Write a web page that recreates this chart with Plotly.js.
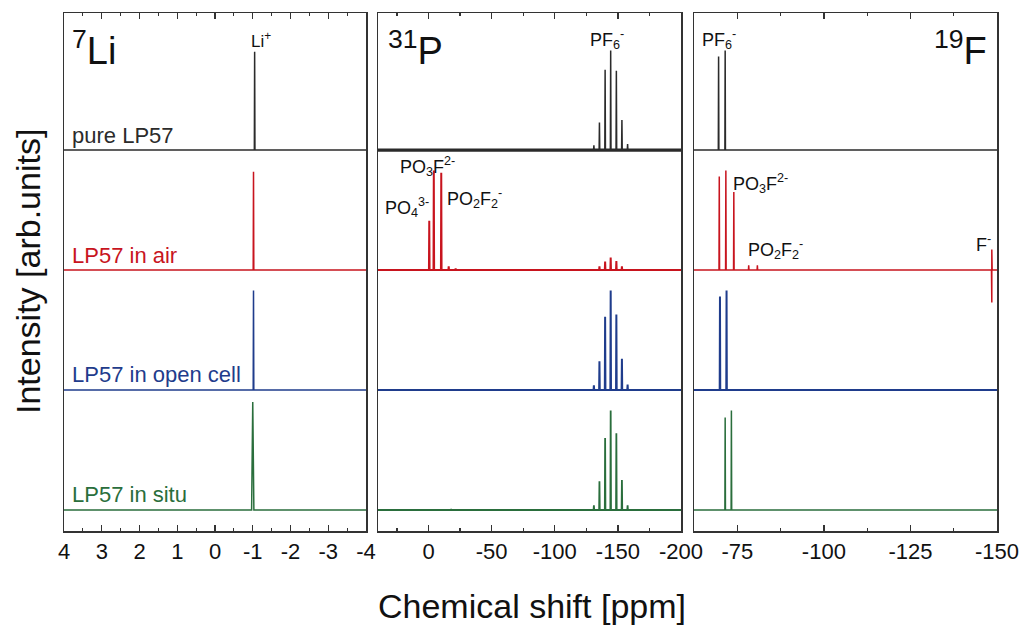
<!DOCTYPE html>
<html>
<head>
<meta charset="utf-8">
<script src="https://cdn.plot.ly/plotly-3.0.1.min.js"></script>
<style>html,body{margin:0;padding:0;background:#fff;}#plot{width:1021px;height:629px;}</style>
</head>
<body>
<div id="plot"></div>
<script>
// ---------------- data ----------------
const sampleNames = ["pure LP57", "LP57 in air", "LP57 in open cell", "LP57 in situ"];
const sampleOffsets = [3, 2, 1, 0];

// 7Li
const liPeakPos = [-1.05, -1.02, -1.02, -1.00];
const liPeakHeight = [0.82, 0.82, 0.83, 0.90];

// 31P
const pPureShift = [-131.0, -135.4, -139.9, -144.3, -148.8, -153.2, -157.7];
const pPureHeight = [0.04, 0.23, 0.67, 0.83, 0.66, 0.25, 0.05];
const pAirShift = [-0.6, -4.2, -10.1, -16.0, -21.5, -135.4, -139.9, -144.3, -148.8, -153.2];
const pAirHeight = [0.41, 0.83, 0.81, 0.03, 0.012, 0.03, 0.07, 0.105, 0.075, 0.03];
const pOpenShift = [-131.0, -135.4, -139.9, -144.3, -148.8, -153.2, -157.7];
const pOpenHeight = [0.04, 0.24, 0.61, 0.83, 0.63, 0.26, 0.045];
const pSituShift = [-18.0, -131.0, -135.4, -139.9, -144.3, -148.8, -153.2, -157.7];
const pSituHeight = [0.008, 0.04, 0.24, 0.60, 0.83, 0.64, 0.25, 0.04];

// 19F
const fPureShift = [-69.6, -71.5];
const fPureHeight = [0.78, 0.83];
const fAirShift = [-69.8, -71.7, -74.0, -78.3, -80.8];
const fAirHeight = [0.78, 0.83, 0.65, 0.04, 0.04];
const fluorideShift = -148.5;
const fluorideUp = 0.17;
const fluorideDown = -0.27;
const fOpenShift = [-70.0, -71.9];
const fOpenHeight = [0.78, 0.83];
const fSituShift = [-71.5, -73.3];
const fSituHeight = [0.77, 0.83];

// axes
const liRange = [4, -4];
const pRange = [40, -200];
const fRange = [-62.5, -150];
const liTicks = [4, 3, 2, 1, 0, -1, -2, -3, -4];
const liTickText = ["4", "3", "2", "1", "0", "-1", "-2", "-3", "-4"];
const pTicks = [0, -50, -100, -150, -200];
const pTickText = ["0", "-50", "-100", "-150", "-200"];
const fTicks = [-75, -100, -125, -150];
const fTickText = ["-75", "-100", "-125", "-150"];

// ---------------- styles ----------------
const colors = ["#2b2b2b", "#c8141e", "#1f3c8c", "#2a6e3c"];
const FONT = "Liberation Sans, Arial, sans-serif";

// build stick spectrum from peak list
function spectrum(range, pos, hts, halfw, offset, extra) {
  const lo = Math.min(range[0], range[1]), hi = Math.max(range[0], range[1]);
  let pts = [];
  pos.forEach((p, i) => pts.push({p: p, seg: [[p - halfw, 0], [p, hts[i]], [p + halfw, 0]]}));
  if (extra) pts.push(extra);
  pts.sort((a, b) => a.p - b.p);
  const xs = [lo], ys = [offset];
  pts.forEach(o => o.seg.forEach(s => { xs.push(s[0]); ys.push(s[1] + offset); }));
  xs.push(hi); ys.push(offset);
  return {xs, ys};
}

const traces = [];
function add(sp, axis, color, width) {
  traces.push({x: sp.xs, y: sp.ys, xaxis: 'x' + axis, yaxis: 'y' + axis, type: 'scatter', mode: 'lines',
    line: {color: color, width: width || 1.5}, hoverinfo: 'skip', showlegend: false});
}

// Li panel
for (let i = 0; i < 4; i++) {
  const hw = i === 3 ? 0.03 : 0.008;
  add(spectrum(liRange, [liPeakPos[i]], [liPeakHeight[i]], hw, sampleOffsets[i]), '', colors[i]);
}
// P panel
add({xs: [pRange[1], pRange[0]], ys: [sampleOffsets[0], sampleOffsets[0]]}, '2', colors[0], 3.2);
add(spectrum(pRange, pPureShift, pPureHeight, 0.25, sampleOffsets[0]), '2', colors[0]);
add(spectrum(pRange, pAirShift, pAirHeight, 0.25, sampleOffsets[1]), '2', colors[1], 2);
add(spectrum(pRange, pOpenShift, pOpenHeight, 0.25, sampleOffsets[2]), '2', colors[2], 2);
add(spectrum(pRange, pSituShift, pSituHeight, 0.25, sampleOffsets[3]), '2', colors[3], 1.8);
// F panel
add(spectrum(fRange, fPureShift, fPureHeight, 0.08, sampleOffsets[0]), '3', colors[0]);
add(spectrum(fRange, fAirShift, fAirHeight, 0.08, sampleOffsets[1],
  {p: fluorideShift, seg: [[fluorideShift - 0.1, 0], [fluorideShift, fluorideUp], [fluorideShift, fluorideDown], [fluorideShift + 0.1, 0]]}), '3', colors[1]);
add(spectrum(fRange, fOpenShift, fOpenHeight, 0.08, sampleOffsets[2]), '3', colors[2], 2);
add(spectrum(fRange, fSituShift, fSituHeight, 0.08, sampleOffsets[3]), '3', colors[3]);

// ---------------- layout ----------------
const W = 1021, H = 629;
const yDom = [1 - 531 / H, 1 - 13 / H];
const yRange = [-0.175, 4.142];

function xax(dom, range, tv, tt, minorDt, anchor) {
  return {domain: dom, range: range, anchor: anchor, tickmode: 'array', tickvals: tv, ticktext: tt,
    ticks: 'inside', ticklen: 6, tickwidth: 1.3, tickcolor: '#333',
    minor: {dtick: minorDt, tick0: 0, ticks: 'inside', ticklen: 3, tickwidth: 1.2, tickcolor: '#333', showgrid: false},
    showline: true, linecolor: '#333', linewidth: 1.5, mirror: 'ticks',
    showgrid: false, zeroline: false, tickfont: {family: FONT, size: 22, color: '#111'}, fixedrange: true};
}
function yax(anchor) {
  return {domain: yDom, range: yRange, anchor: anchor, showticklabels: false, ticks: '',
    showline: true, linecolor: '#333', linewidth: 1.5, mirror: true, showgrid: false, zeroline: false, fixedrange: true};
}

const ann = [];
function label(text, x, y, xref, yref, size, color, xanchor) {
  ann.push({text: text, x: x, y: y, xref: xref, yref: yref, showarrow: false,
    font: {family: FONT, size: size, color: color || '#111'}, xanchor: xanchor || 'center', yanchor: 'middle'});
}
// sample names
for (let i = 0; i < 4; i++) label(sampleNames[i], 3.85, sampleOffsets[i] + [0.12, 0.12, 0.13, 0.13][i], 'x', 'y', 22, colors[i], 'left');
// nucleus labels
label('<sup>7</sup>Li', 3.85, 3.85, 'x', 'y', 38, '#111', 'left');
label('<sup>31</sup>P', 34, 3.85, 'x2', 'y2', 38, '#111', 'left');
label('<sup>19</sup>F', -147.7, 3.85, 'x3', 'y3', 38, '#111', 'right');
// peak labels
label('Li<sup>+</sup>', -1.22, 3.92, 'x', 'y', 17);
label('PF<sub>6</sub><sup>-</sup>', -141.7, 3.92, 'x2', 'y2', 18);
label('PO<sub>3</sub>F<sup>2-</sup>', 0.8, 2.86, 'x2', 'y2', 18);
label('PO<sub>4</sub><sup>3-</sup>', 16.7, 2.52, 'x2', 'y2', 18);
label('PO<sub>2</sub>F<sub>2</sub><sup>-</sup>', -36.6, 2.6, 'x2', 'y2', 18);
label('PF<sub>6</sub><sup>-</sup>', -69.7, 3.92, 'x3', 'y3', 18);
label('PO<sub>3</sub>F<sup>2-</sup>', -81.8, 2.72, 'x3', 'y3', 18);
label('PO<sub>2</sub>F<sub>2</sub><sup>-</sup>', -86.1, 2.17, 'x3', 'y3', 18);
label('F<sup>-</sup>', -146.2, 2.22, 'x3', 'y3', 18);
// axis titles
ann.push({text: 'Chemical shift [ppm]', x: 532 / W, y: 1 - 606 / H, xref: 'paper', yref: 'paper', showarrow: false,
  font: {family: FONT, size: 34, color: '#111'}, xanchor: 'center', yanchor: 'middle'});
ann.push({text: 'Intensity [arb.units]', x: 28 / W, y: 1 - 272 / H, xref: 'paper', yref: 'paper', showarrow: false,
  textangle: -90, font: {family: FONT, size: 34, color: '#111'}, xanchor: 'center', yanchor: 'middle'});

const layout = {
  width: W, height: H, margin: {l: 0, r: 0, t: 0, b: 0},
  paper_bgcolor: '#fff', plot_bgcolor: '#fff', showlegend: false,
  xaxis: xax([64 / W, 366 / W], liRange, liTicks, liTickText, 0.5, 'y'),
  xaxis2: xax([378 / W, 681 / W], pRange, pTicks, pTickText, 25, 'y2'),
  xaxis3: xax([694 / W, 997 / W], fRange, fTicks, fTickText, 12.5, 'y3'),
  yaxis: yax('x'), yaxis2: yax('x2'), yaxis3: yax('x3'),
  annotations: ann
};
Plotly.newPlot('plot', traces, layout, {staticPlot: true, displayModeBar: false});
</script>
</body>
</html>
